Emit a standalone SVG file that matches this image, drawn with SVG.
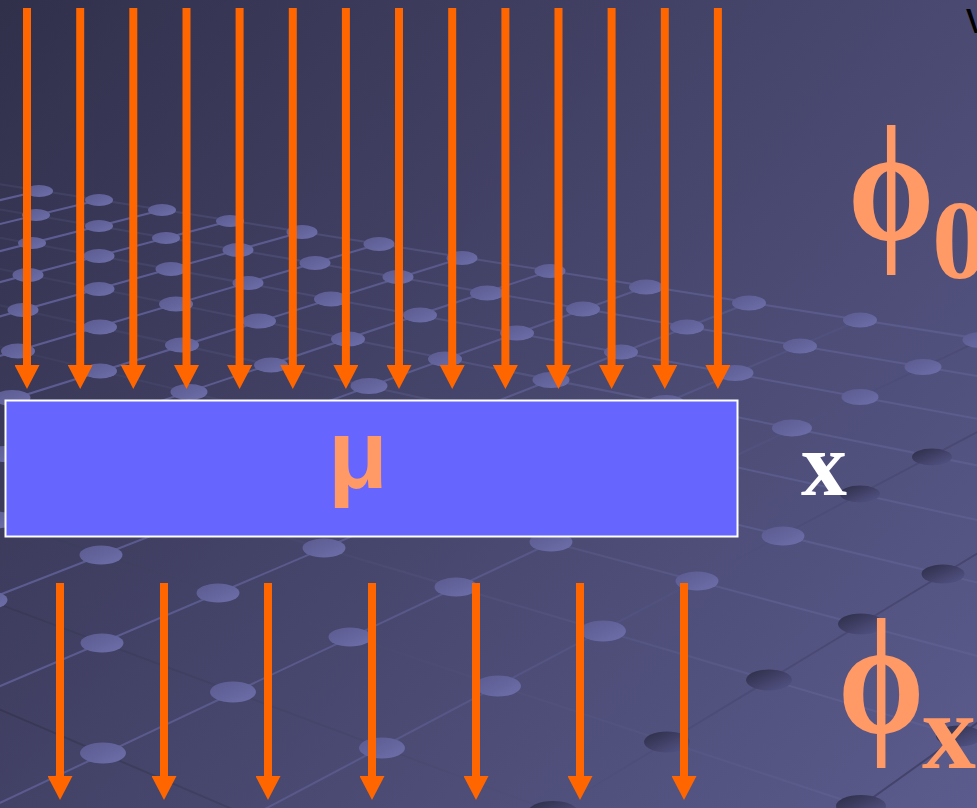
<svg xmlns="http://www.w3.org/2000/svg" width="977" height="808" viewBox="0 0 977 808">
<defs>
  <linearGradient id="bg" gradientUnits="userSpaceOnUse" x1="0" y1="0" x2="977" y2="808">
    <stop offset="0" stop-color="#31304b"/>
    <stop offset="1" stop-color="#5b5b8d"/>
  </linearGradient>
  <linearGradient id="gA" gradientUnits="userSpaceOnUse" x1="0" y1="200" x2="977" y2="808">
    <stop offset="0" stop-color="#6464a0"/>
    <stop offset="0.55" stop-color="#5a5a8c"/>
    <stop offset="1" stop-color="#3a3a5e"/>
  </linearGradient>
  <linearGradient id="gB" gradientUnits="userSpaceOnUse" x1="0" y1="750" x2="700" y2="450">
    <stop offset="0" stop-color="#34344f"/>
    <stop offset="1" stop-color="#5e5e90"/>
  </linearGradient>
  <linearGradient id="dL" x1="0" y1="0" x2="1" y2="1">
    <stop offset="0" stop-color="#5b5b90"/>
    <stop offset="1" stop-color="#6e6eaa"/>
  </linearGradient>
  <linearGradient id="dD" x1="0" y1="0" x2="1" y2="1">
    <stop offset="0" stop-color="#2c2c46"/>
    <stop offset="1" stop-color="#56568a"/>
  </linearGradient>
  <marker id="ah" markerUnits="userSpaceOnUse" markerWidth="24" markerHeight="25" viewBox="0 0 24 25" refX="1" refY="12.5" orient="auto">
    <path d="M0,0 L24,12.5 L0,25 z" fill="#FF6600"/>
  </marker>
</defs>
<style>
  .al{stroke:url(#gA);stroke-width:2;fill:none;opacity:0.85}
  .bl{stroke:url(#gB);stroke-width:2;fill:none;opacity:0.8}
  .dl{fill:url(#dL)}
  .dd{fill:url(#dD)}
  .ar{stroke:#FF6600;stroke-width:8;marker-end:url(#ah)}
  .or{fill:#FF9966}
  .serif{font-family:"Liberation Serif","DejaVu Serif","Times New Roman",serif;font-weight:bold}
</style>

<rect x="0" y="0" width="977" height="808" fill="url(#bg)"/>

<g id="grid">
  <g id="gridA">
    <path class="al" d="M39,191 L-1957,657"/>
    <path class="al" d="M99,200 L-1849,674"/>
    <path class="al" d="M162,210 L-1736,692"/>
    <path class="al" d="M230,221 L-1613,711"/>
    <path class="al" d="M302,232 L-1484,731"/>
    <path class="al" d="M379,244 L-1345,753"/>
    <path class="al" d="M462,258 L-1196,778"/>
    <path class="al" d="M550,271 L-1037,801"/>
    <path class="al" d="M646,287 L-864,830"/>
    <path class="al" d="M749,303 L-679,859"/>
    <path class="al" d="M860,320 L-479,890"/>
    <path class="al" d="M981,340 L-261,926"/>
    <path class="al" d="M1113,360 L-24,962"/>
    <path class="al" d="M1258,383 L237,1003"/>
    <path class="al" d="M1417,408 L523,1048"/>
  </g>
  <g id="gridB">
    <path class="bl" d="M-20,181 L1000,342"/>
    <path class="bl" d="M-20,206 L1000,380"/>
    <path class="bl" d="M-20,234 L1000,423"/>
    <path class="bl" d="M-20,265 L1000,470"/>
    <path class="bl" d="M-20,301 L1000,525"/>
    <path class="bl" d="M-20,342 L1000,588"/>
    <path class="bl" d="M-20,390 L1000,662"/>
    <path class="bl" d="M-20,447 L1000,748"/>
    <path class="bl" d="M-20,514 L1000,852"/>
    <path class="bl" d="M-20,597 L1000,979"/>
    <path class="bl" d="M-20,701 L1000,1138"/>
  </g>
  <g id="dots">
    <ellipse class="dl" cx="39" cy="191" rx="14" ry="6"/>
    <ellipse class="dl" cx="99" cy="200" rx="14" ry="6"/>
    <ellipse class="dl" cx="36" cy="215" rx="14" ry="6"/>
    <ellipse class="dl" cx="162" cy="210" rx="14" ry="6"/>
    <ellipse class="dl" cx="99" cy="226" rx="14" ry="6"/>
    <ellipse class="dl" cx="32" cy="243" rx="14" ry="6"/>
    <ellipse class="dl" cx="230" cy="221" rx="14" ry="6"/>
    <ellipse class="dl" cx="166" cy="238" rx="14" ry="6"/>
    <ellipse class="dl" cx="99" cy="256" rx="15.5" ry="7"/>
    <ellipse class="dl" cx="28" cy="275" rx="15.5" ry="7"/>
    <ellipse class="dl" cx="302" cy="232" rx="15.5" ry="7"/>
    <ellipse class="dl" cx="238" cy="250" rx="15.5" ry="7"/>
    <ellipse class="dl" cx="171" cy="269" rx="15.5" ry="7"/>
    <ellipse class="dl" cx="99" cy="289" rx="15.5" ry="7"/>
    <ellipse class="dl" cx="23" cy="310" rx="15.5" ry="7"/>
    <ellipse class="dl" cx="379" cy="244" rx="15.5" ry="7"/>
    <ellipse class="dl" cx="315" cy="263" rx="15.5" ry="7"/>
    <ellipse class="dl" cx="248" cy="283" rx="15.5" ry="7"/>
    <ellipse class="dl" cx="176" cy="304" rx="17" ry="7.5"/>
    <ellipse class="dl" cx="100" cy="327" rx="17" ry="7.5"/>
    <ellipse class="dl" cx="18" cy="351" rx="17" ry="7.5"/>
    <ellipse class="dl" cx="462" cy="258" rx="15.5" ry="7"/>
    <ellipse class="dl" cx="398" cy="277" rx="15.5" ry="7"/>
    <ellipse class="dl" cx="331" cy="299" rx="17" ry="7.5"/>
    <ellipse class="dl" cx="259" cy="321" rx="17" ry="7.5"/>
    <ellipse class="dl" cx="182" cy="345" rx="17" ry="7.5"/>
    <ellipse class="dl" cx="100" cy="371" rx="17" ry="7.5"/>
    <ellipse class="dl" cx="12" cy="398" rx="18.5" ry="8"/>
    <ellipse class="dl" cx="550" cy="271" rx="15.5" ry="7"/>
    <ellipse class="dl" cx="487" cy="293" rx="17" ry="7.5"/>
    <ellipse class="dl" cx="420" cy="315" rx="17" ry="7.5"/>
    <ellipse class="dl" cx="348" cy="339" rx="17" ry="7.5"/>
    <ellipse class="dl" cx="271" cy="365" rx="17" ry="7.5"/>
    <ellipse class="dl" cx="189" cy="392" rx="18.5" ry="8"/>
    <ellipse class="dl" cx="5" cy="454" rx="18.5" ry="8"/>
    <ellipse class="dl" cx="646" cy="287" rx="17" ry="7.5"/>
    <ellipse class="dl" cx="583" cy="309" rx="17" ry="7.5"/>
    <ellipse class="dl" cx="517" cy="333" rx="17" ry="7.5"/>
    <ellipse class="dl" cx="445" cy="359" rx="17" ry="7.5"/>
    <ellipse class="dl" cx="369" cy="386" rx="18.5" ry="8"/>
    <ellipse class="dl" cx="-4" cy="520" rx="20" ry="8.5"/>
    <ellipse class="dl" cx="749" cy="303" rx="17" ry="7.5"/>
    <ellipse class="dl" cx="687" cy="327" rx="17" ry="7.5"/>
    <ellipse class="dl" cx="621" cy="352" rx="17" ry="7.5"/>
    <ellipse class="dl" cx="551" cy="380" rx="18.5" ry="8"/>
    <ellipse class="dl" cx="101" cy="555" rx="21.5" ry="9.5"/>
    <ellipse class="dl" cx="-14" cy="600" rx="21.5" ry="9.5"/>
    <ellipse class="dl" cx="860" cy="320" rx="17" ry="7.5"/>
    <ellipse class="dl" cx="800" cy="346" rx="17" ry="7.5"/>
    <ellipse class="dl" cx="735" cy="373" rx="18.5" ry="8"/>
    <ellipse class="dl" cx="666" cy="403" rx="18.5" ry="8"/>
    <ellipse class="dl" cx="324" cy="548" rx="21.5" ry="9.5"/>
    <ellipse class="dl" cx="218" cy="593" rx="21.5" ry="9.5"/>
    <ellipse class="dl" cx="102" cy="643" rx="21.5" ry="9.5"/>
    <ellipse class="dl" cx="981" cy="340" rx="18.5" ry="8"/>
    <ellipse class="dl" cx="923" cy="367" rx="18.5" ry="8"/>
    <ellipse class="dl" cx="860" cy="397" rx="18.5" ry="8"/>
    <ellipse class="dl" cx="792" cy="428" rx="20" ry="8.5"/>
    <ellipse class="dl" cx="551" cy="542" rx="21.5" ry="9.5"/>
    <ellipse class="dl" cx="456" cy="587" rx="21.5" ry="9.5"/>
    <ellipse class="dl" cx="350" cy="637" rx="21.5" ry="9.5"/>
    <ellipse class="dl" cx="233" cy="692" rx="23" ry="10.5"/>
    <ellipse class="dl" cx="103" cy="753" rx="23" ry="10.5"/>
    <ellipse class="dd" cx="932" cy="457" rx="20" ry="8.5"/>
    <ellipse class="dd" cx="860" cy="494" rx="20" ry="8.5"/>
    <ellipse class="dl" cx="783" cy="536" rx="21.5" ry="9.5"/>
    <ellipse class="dl" cx="697" cy="581" rx="21.5" ry="9.5"/>
    <ellipse class="dl" cx="603" cy="631" rx="23" ry="10.5"/>
    <ellipse class="dl" cx="498" cy="686" rx="23" ry="10.5"/>
    <ellipse class="dl" cx="382" cy="748" rx="23" ry="10.5"/>
    <ellipse class="dd" cx="943" cy="574" rx="21.5" ry="9.5"/>
    <ellipse class="dd" cx="861" cy="624" rx="23" ry="10.5"/>
    <ellipse class="dd" cx="769" cy="680" rx="23" ry="10.5"/>
    <ellipse class="dd" cx="667" cy="742" rx="23" ry="10.5"/>
    <ellipse class="dd" cx="553" cy="812" rx="25" ry="11"/>
    <ellipse class="dd" cx="959" cy="736" rx="23" ry="10.5"/>
    <ellipse class="dd" cx="861" cy="806" rx="25" ry="11"/>
  </g>
</g>

<g id="connectors">
  <g id="incident">
    <line class="ar" x1="27" y1="8" x2="27" y2="366"/>
    <line class="ar" x1="80.2" y1="8" x2="80.2" y2="366"/>
    <line class="ar" x1="133.3" y1="8" x2="133.3" y2="366"/>
    <line class="ar" x1="186.5" y1="8" x2="186.5" y2="366"/>
    <line class="ar" x1="239.6" y1="8" x2="239.6" y2="366"/>
    <line class="ar" x1="292.8" y1="8" x2="292.8" y2="366"/>
    <line class="ar" x1="345.9" y1="8" x2="345.9" y2="366"/>
    <line class="ar" x1="399" y1="8" x2="399" y2="366"/>
    <line class="ar" x1="452.2" y1="8" x2="452.2" y2="366"/>
    <line class="ar" x1="505.4" y1="8" x2="505.4" y2="366"/>
    <line class="ar" x1="558.5" y1="8" x2="558.5" y2="366"/>
    <line class="ar" x1="611.6" y1="8" x2="611.6" y2="366"/>
    <line class="ar" x1="664.8" y1="8" x2="664.8" y2="366"/>
    <line class="ar" x1="717.9" y1="8" x2="717.9" y2="366"/>
  </g>
  <g id="transmitted">
    <line class="ar" x1="60" y1="583" x2="60" y2="777"/>
    <line class="ar" x1="164" y1="583" x2="164" y2="777"/>
    <line class="ar" x1="268" y1="583" x2="268" y2="777"/>
    <line class="ar" x1="372" y1="583" x2="372" y2="777"/>
    <line class="ar" x1="476" y1="583" x2="476" y2="777"/>
    <line class="ar" x1="580" y1="583" x2="580" y2="777"/>
    <line class="ar" x1="684" y1="583" x2="684" y2="777"/>
  </g>
</g>

<g id="absorber">
  <rect x="5.5" y="400.5" width="732" height="136" fill="#6666FF" stroke="#FFFFFF" stroke-width="2"/>
  <text class="or" x="358" y="488" font-family="'Liberation Sans', Arial, sans-serif" font-weight="bold" font-size="98" text-anchor="middle">μ</text>
</g>

<g id="thickness">
  <text class="serif" x="801" y="495" font-size="92" fill="#FFFFFF">x</text>
</g>

<g id="phi0">
  <text class="serif or" transform="translate(848,240) scale(0.84,1)" x="0" y="0" font-size="165">ϕ</text>
  <text class="serif or" x="932" y="278" font-size="112">0</text>
</g>

<g id="phix">
  <text class="serif or" transform="translate(838,733) scale(0.84,1)" x="0" y="0" font-size="165">ϕ</text>
  <text class="serif or" x="922" y="768" font-size="108">x</text>
</g>

<g id="corner">
  <text x="966" y="33" font-family="'Liberation Sans', Arial, sans-serif" font-size="44" fill="#000000">v</text>
</g>
</svg>
